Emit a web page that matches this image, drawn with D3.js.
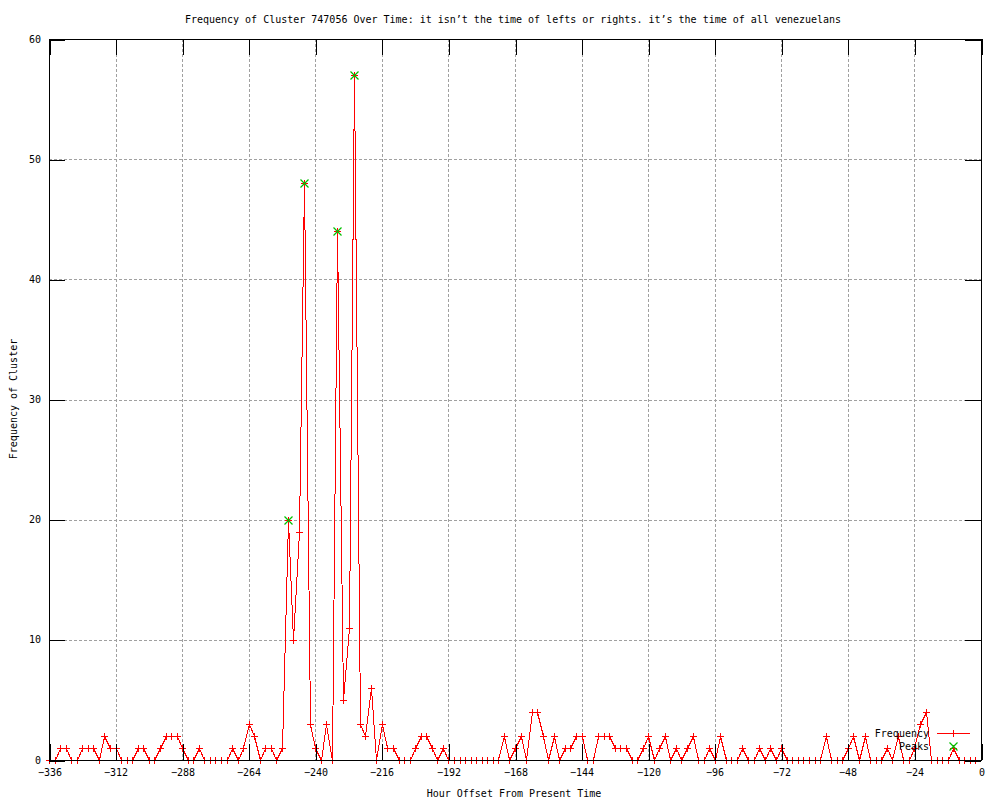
<!DOCTYPE html>
<html>
<head>
<meta charset="utf-8">
<script src="https://cdn.jsdelivr.net/npm/d3@7"></script>
<style>
  body { margin: 0; background: #fff; }
  text { font-family: "DejaVu Sans Mono", monospace; font-size: 10px; fill: #000; }
</style>
</head>
<body>
<div id="chart"></div>
<script>
// hour offsets of each 2-hour bin
var hours = [
    -336, -334, -332, -330, -328, -326, -324, -322, -320, -318, -316, -314,
    -312, -310, -308, -306, -304, -302, -300, -298, -296, -294, -292, -290,
    -288, -286, -284, -282, -280, -278, -276, -274, -272, -270, -268, -266,
    -264, -262, -260, -258, -256, -254, -252, -250, -248, -246, -244, -242,
    -240, -238, -236, -234, -232, -230, -228, -226, -224, -222, -220, -218,
    -216, -214, -212, -210, -208, -206, -204, -202, -200, -198, -196, -194,
    -192, -190, -188, -186, -184, -182, -180, -178, -176, -174, -172, -170,
    -168, -166, -164, -162, -160, -158, -156, -154, -152, -150, -148, -146,
    -144, -142, -140, -138, -136, -134, -132, -130, -128, -126, -124, -122,
    -120, -118, -116, -114, -112, -110, -108, -106, -104, -102, -100, -98,
    -96, -94, -92, -90, -88, -86, -84, -82, -80, -78, -76, -74,
    -72, -70, -68, -66, -64, -62, -60, -58, -56, -54, -52, -50,
    -48, -46, -44, -42, -40, -38, -36, -34, -32, -30, -28, -26,
    -24, -22, -20, -18, -16, -14, -12, -10, -8, -6, -4, -2
];
var frequency = [
    0, 0, 1, 1, 0, 0, 1, 1, 1, 0, 2, 1,
    1, 0, 0, 0, 1, 1, 0, 0, 1, 2, 2, 2,
    1, 0, 0, 1, 0, 0, 0, 0, 0, 1, 0, 1,
    3, 2, 0, 1, 1, 0, 1, 20, 10, 19, 48, 3,
    1, 0, 3, 0, 44, 5, 11, 57, 3, 2, 6, 0,
    3, 1, 1, 0, 0, 0, 1, 2, 2, 1, 0, 1,
    0, 0, 0, 0, 0, 0, 0, 0, 0, 0, 2, 0,
    1, 2, 0, 4, 4, 2, 0, 2, 0, 1, 1, 2,
    2, 0, 0, 2, 2, 2, 1, 1, 1, 0, 0, 1,
    2, 0, 1, 2, 0, 1, 0, 1, 2, 0, 0, 1,
    0, 2, 0, 0, 0, 1, 0, 0, 1, 0, 1, 0,
    1, 0, 0, 0, 0, 0, 0, 0, 2, 0, 0, 0,
    1, 2, 0, 2, 0, 0, 0, 1, 0, 2, 0, 0,
    1, 3, 4, 0, 0, 0, 0, 1, 0, 0, 0, 0
];
var peakHours = [-250, -244, -232, -226];
var peakValues = [20, 48, 44, 57];

var xTicks = [-336, -312, -288, -264, -240, -216, -192, -168, -144, -120, -96, -72, -48, -24, 0];
var yTicks = [0, 10, 20, 30, 40, 50, 60];

var titleText = "Frequency of Cluster 747056 Over Time: it isn\u2019t the time of lefts or rights. it\u2019s the time of all venezuelans";
var xLabel = "Hour Offset From Present Time";
var yLabel = "Frequency of Cluster";

// plot box
var margin = { top: 39, right: 19, bottom: 40, left: 49 },
    W = 1000, H = 800,
    width = W - margin.left - margin.right,
    height = H - margin.top - margin.bottom;
var tic = 16;

var svg = d3.select("#chart").append("svg")
    .attr("width", W)
    .attr("height", H);
svg.append("rect").attr("width", W).attr("height", H).attr("fill", "#fff");

var g = svg.append("g")
    .attr("transform", "translate(" + margin.left + "," + margin.top + ")");

var x = d3.scaleLinear().domain([-336, 0]).range([0, width]);
var y = d3.scaleLinear().domain([0, 60]).range([height, 0]);

function px(v) { return Math.round(v) + 0.5; }

// grid
var grid = g.append("g").attr("stroke", "#a0a0a0").attr("stroke-dasharray", "3,2")
    .attr("shape-rendering", "crispEdges");
grid.selectAll(".gx").data(xTicks.slice(1, -1)).enter().append("line")
    .attr("x1", d => px(x(d))).attr("x2", d => px(x(d)))
    .attr("y1", 0).attr("y2", height);
grid.selectAll(".gy").data(yTicks.slice(1, -1)).enter().append("line")
    .attr("y1", d => px(y(d))).attr("y2", d => px(y(d)))
    .attr("x1", 0).attr("x2", width);

// frequency line
var pts = hours.map(function (h, i) { return [h, frequency[i]]; });
var line = d3.line()
    .x(d => px(x(d[0])))
    .y(d => px(y(d[1])));
g.append("path")
    .datum(pts)
    .attr("d", line)
    .attr("fill", "none")
    .attr("stroke", "#ff0000")
    .attr("stroke-width", 1)
    .attr("shape-rendering", "crispEdges");

function plusPath(cx, cy) {
    cx = px(cx); cy = px(cy);
    return "M" + (cx - 3.5) + "," + cy + "H" + (cx + 3.5) + "M" + cx + "," + (cy - 3.5) + "V" + (cy + 3.5);
}
function crossPath(cx, cy) {
    cx = px(cx); cy = px(cy);
    return "M" + (cx - 4) + "," + (cy - 4) + "L" + (cx + 4) + "," + (cy + 4) +
        "M" + (cx - 4) + "," + (cy + 4) + "L" + (cx + 4) + "," + (cy - 4);
}

g.append("g").selectAll("path").data(pts).enter().append("path")
    .attr("d", d => plusPath(x(d[0]), y(d[1])))
    .attr("stroke", "#ff0000")
    .attr("fill", "none")
    .attr("shape-rendering", "crispEdges");

// peaks
g.append("g").selectAll("path").data(peakHours).enter().append("path")
    .attr("d", (d, i) => crossPath(x(d), y(peakValues[i])))
    .attr("stroke", "#00c000")
    .attr("stroke-width", 1.2)
    .attr("fill", "none");

// axes (ticks inward, mirrored)
var xAxisB = g.append("g").attr("transform", "translate(0," + height + ")")
    .call(d3.axisBottom(x).tickValues(xTicks).tickSizeInner(-tic).tickSizeOuter(0).tickPadding(9)
        .tickFormat(d3.format("d")));
var xAxisT = g.append("g")
    .call(d3.axisTop(x).tickValues(xTicks).tickSizeInner(-tic).tickSizeOuter(0).tickFormat(""));
var yAxisL = g.append("g")
    .call(d3.axisLeft(y).tickValues(yTicks).tickSizeInner(-tic).tickSizeOuter(0).tickPadding(8));
var yAxisR = g.append("g").attr("transform", "translate(" + width + ",0)")
    .call(d3.axisRight(y).tickValues(yTicks).tickSizeInner(-tic).tickSizeOuter(0).tickFormat(""));

[xAxisB, xAxisT, yAxisL, yAxisR].forEach(function (a) {
    a.select(".domain").remove();
    a.attr("font-family", null).attr("font-size", null);
    a.selectAll("line").attr("stroke", "#000").attr("shape-rendering", "crispEdges")
        .attr("transform", function () {
            return "translate(" + (a === yAxisL || a === yAxisR ? "0,0.5" : "0.5,0") + ")";
        });
    a.selectAll(".tick").attr("transform", function () {
        var t = d3.select(this).attr("transform");
        var m = /translate\(([-\d.]+),([-\d.]+)\)/.exec(t);
        return "translate(" + Math.round(+m[1]) + "," + Math.round(+m[2]) + ")";
    });
});
xAxisB.selectAll("text").attr("dy", "0.71em");

// border
g.append("rect")
    .attr("x", 0.5).attr("y", 0.5)
    .attr("width", Math.round(width)).attr("height", Math.round(height))
    .attr("fill", "none").attr("stroke", "#000")
    .attr("shape-rendering", "crispEdges");

// legend
var legX = 929, legY1 = 733, legY2 = 746;
var legend = svg.append("g");
legend.append("text").attr("x", legX).attr("y", legY1).attr("dy", "0.35em")
    .attr("text-anchor", "end").text("Frequency");
legend.append("rect")
    .attr("x", 937).attr("y", legY1).attr("width", 33).attr("height", 1)
    .attr("fill", "#ff0000");
legend.append("path").attr("d", plusPath(953, legY1))
    .attr("stroke", "#ff0000").attr("fill", "none").attr("shape-rendering", "crispEdges");
legend.append("text").attr("x", legX).attr("y", legY2).attr("dy", "0.35em")
    .attr("text-anchor", "end").text("Peaks");
legend.append("path").attr("d", crossPath(953, legY2))
    .attr("stroke", "#00c000").attr("stroke-width", 1.2).attr("fill", "none");

// titles
svg.append("text").attr("x", 513).attr("y", 19).attr("dy", "0.35em")
    .attr("text-anchor", "middle").text(titleText);
svg.append("text").attr("x", 514).attr("y", 793).attr("dy", "0.35em")
    .attr("text-anchor", "middle").text(xLabel);
svg.append("text")
    .attr("transform", "translate(13,399) rotate(-90)")
    .attr("dy", "0.35em")
    .attr("text-anchor", "middle").text(yLabel);
</script>
</body>
</html>
